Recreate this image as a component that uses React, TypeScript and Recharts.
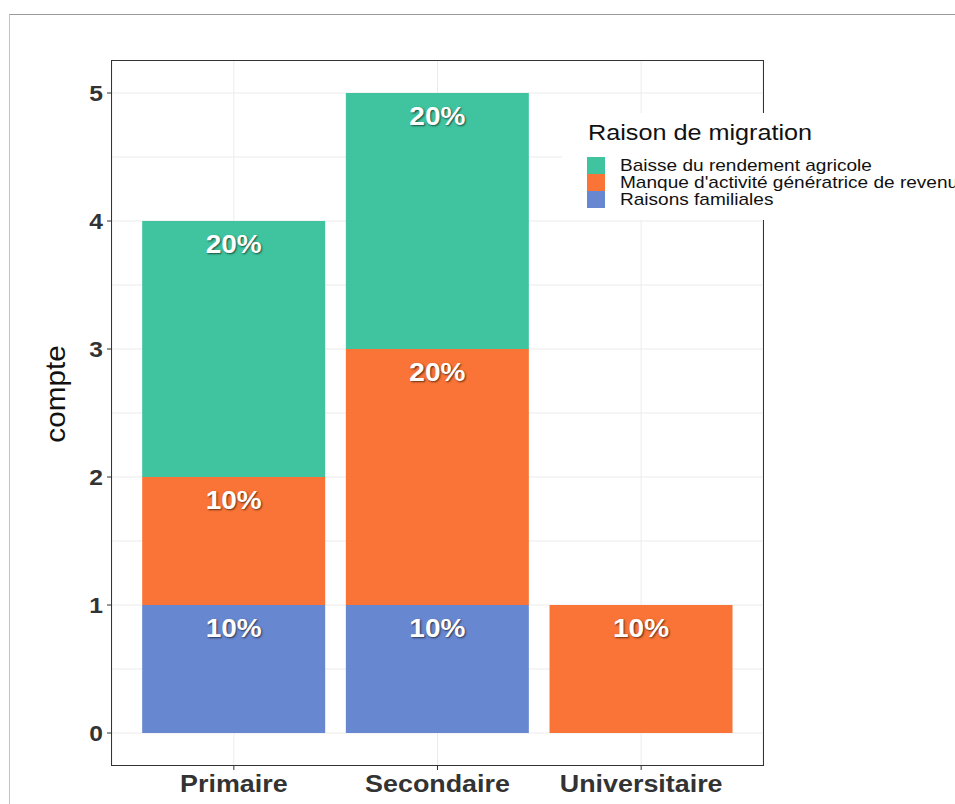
import { BarChart, Bar, XAxis, YAxis, CartesianGrid, LabelList } from "recharts";

const categories = ["Primaire", "Secondaire", "Universitaire"];
const raisonsFamiliales = [1, 1, 0];
const manqueActivite = [1, 2, 1];
const baisseRendement = [2, 2, 0];
const yTicks = [0, 1, 2, 3, 4, 5];
const gridValues = [0, 0.5, 1, 1.5, 2, 2.5, 3, 3.5, 4, 4.5, 5];

const series = [
  { key: "familial", name: "Raisons familiales", color: "#6787d0", values: raisonsFamiliales },
  { key: "manque", name: "Manque d'activité génératrice de revenu", color: "#f97436", values: manqueActivite },
  { key: "baisse", name: "Baisse du rendement agricole", color: "#3fc49f", values: baisseRendement },
];

const total = series.reduce((s, ser) => s + ser.values.reduce((a, b) => a + b, 0), 0);

const data = categories.map((cat, i) => {
  const row: Record<string, string | number | null> = { cat };
  series.forEach((s) => {
    row[s.key] = s.values[i] > 0 ? s.values[i] : null;
  });
  return row;
});

const FONT = "Liberation Sans, Arial, Helvetica, sans-serif";
const SX = 1.12; // the reference text is a bit stretched horizontally

function PctLabel(props: any) {
  const { x, y, width, value } = props;
  if (!value) return null;
  return (
    <text
      transform={`translate(${x + width / 2},${y + 24}) scale(${SX},1)`}
      textAnchor="middle"
      dominantBaseline="central"
      fill="#ffffff"
      fontFamily={FONT}
      fontWeight="bold"
      fontSize={25}
      style={{ textShadow: "1px 1px 2px rgba(0,0,0,0.6)" }}
    >
      {`${Math.round((value / total) * 100)}%`}
    </text>
  );
}

function XTick(props: any) {
  const { x, y, payload } = props;
  return (
    <text
      transform={`translate(${x},${y + 2}) scale(${SX},1)`}
      textAnchor="middle"
      dominantBaseline="hanging"
      fill="#333"
      fontFamily={FONT}
      fontWeight="bold"
      fontSize={24}
    >
      {payload.value}
    </text>
  );
}

function YTick(props: any) {
  const { x, y, payload } = props;
  return (
    <text
      transform={`translate(${x},${y}) scale(${SX},1)`}
      textAnchor="end"
      dominantBaseline="central"
      fill="#333"
      fontFamily={FONT}
      fontWeight="bold"
      fontSize={22}
    >
      {payload.value}
    </text>
  );
}

function YLabel(props: any) {
  const { viewBox } = props;
  const cy = viewBox.y + viewBox.height / 2 - 19;
  return (
    <text
      transform={`translate(55,${cy}) rotate(-90) scale(1.1,1)`}
      textAnchor="middle"
      dominantBaseline="central"
      fill="#111"
      fontFamily={FONT}
      fontSize={27}
    >
      compte
    </text>
  );
}

export default function App() {
  const legendItems = [...series].reverse();
  return (
    <div style={{ position: "absolute", left: 0, top: 0, width: 955, height: 804, background: "#fff", overflow: "hidden" }}>
      <div
        style={{
          position: "absolute",
          left: 9,
          top: 14,
          right: 0,
          bottom: 0,
          borderTop: "1px solid #9a9a9a",
          borderLeft: "1px solid #c4c4c4",
        }}
      />
      <BarChart
        width={955}
        height={804}
        data={data}
        margin={{ top: 61, right: 192, bottom: 0, left: 12 }}
        barCategoryGap="5%"
      >
        <CartesianGrid stroke="#ebebeb" horizontalValues={gridValues} />
        <XAxis
          dataKey="cat"
          height={39}
          padding={{ left: 20, right: 20 }}
          axisLine={false}
          tickSize={5}
          tickMargin={3}
          tickLine={{ stroke: "#333" }}
          tick={<XTick />}
        />
        <YAxis
          width={100}
          type="number"
          domain={[-0.25, 5.25]}
          ticks={yTicks}
          axisLine={false}
          tickSize={5}
          tickMargin={4}
          tickLine={{ stroke: "#333" }}
          tick={<YTick />}
          label={<YLabel />}
        />
        {series.map((s) => (
          <Bar key={s.key} dataKey={s.key} name={s.name} stackId="a" fill={s.color} isAnimationActive={false}>
            <LabelList dataKey={s.key} content={<PctLabel />} />
          </Bar>
        ))}
      </BarChart>
      <div
        style={{
          position: "absolute",
          left: 111,
          top: 60,
          width: 651,
          height: 704,
          border: "1.5px solid #333",
          pointerEvents: "none",
        }}
      />
      <div
        style={{
          position: "absolute",
          left: 562,
          top: 113,
          width: 393,
          height: 107,
          background: "#fff",
          fontFamily: FONT,
          color: "#111",
          overflow: "hidden",
        }}
      >
        <div
          style={{
            position: "absolute",
            left: 26,
            top: 7,
            fontSize: 22.5,
            whiteSpace: "nowrap",
            transform: `scaleX(${SX})`,
            transformOrigin: "left center",
          }}
        >
          Raison de migration
        </div>
        {legendItems.map((s, i) => (
          <div
            key={s.key}
            style={{ position: "absolute", left: 25, top: 44 + i * 17, height: 17, display: "flex", alignItems: "center" }}
          >
            <div style={{ width: 18, height: 17, background: s.color }} />
            <div
              style={{
                marginLeft: 15,
                fontSize: 17,
                whiteSpace: "nowrap",
                lineHeight: "17px",
                transform: `scaleX(${SX})`,
                transformOrigin: "left center",
              }}
            >
              {s.name}
            </div>
          </div>
        ))}
      </div>
    </div>
  );
}
